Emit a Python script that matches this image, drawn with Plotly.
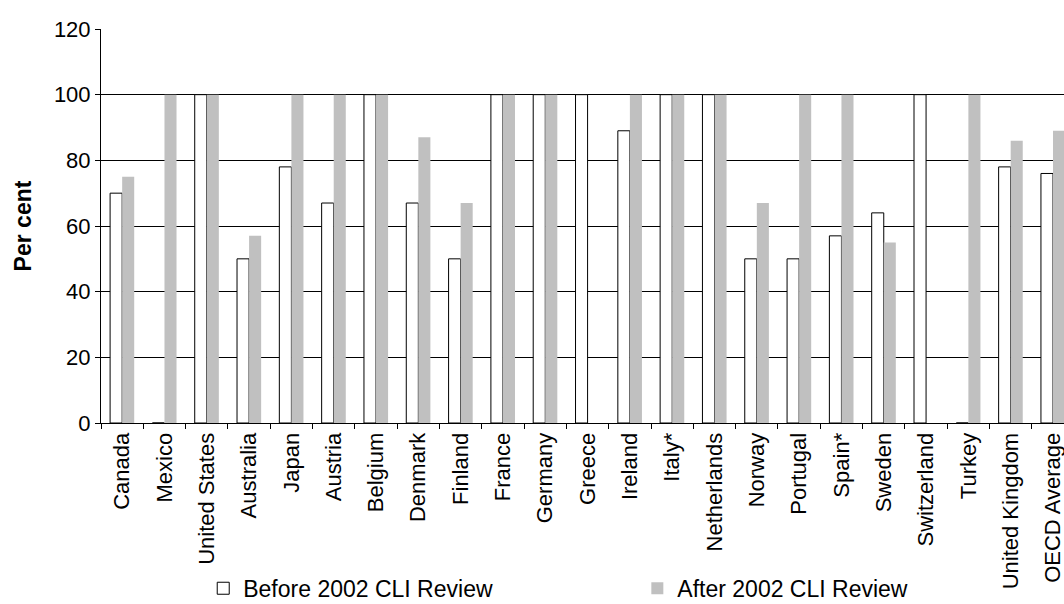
import plotly.graph_objects as go

countries = [
    "Canada", "Mexico", "United States", "Australia", "Japan", "Austria",
    "Belgium", "Denmark", "Finland", "France", "Germany", "Greece", "Ireland",
    "Italy*", "Netherlands", "Norway", "Portugal", "Spain*", "Sweden",
    "Switzerland", "Turkey", "United Kingdom", "OECD Average",
]
before_2002 = [70, 0, 100, 50, 78, 67, 100, 67, 50, 100, 100, 100, 89,
               100, 100, 50, 50, 57, 64, 100, 0, 78, 76]
after_2002 = [75, 100, 100, 57, 100, 100, 100, 87, 67, 100, 100, 0, 100,
              100, 100, 67, 100, 100, 55, 0, 100, 86, 89]
y_ticks = [0, 20, 40, 60, 80, 100, 120]

FONT = "Liberation Sans, Arial, sans-serif"

fig = go.Figure()
fig.add_trace(go.Bar(
    x=countries, y=before_2002, name="Before 2002 CLI Review",
    marker=dict(color="white", line=dict(color="black", width=1)),
    legend="legend",
))
fig.add_trace(go.Bar(
    x=countries, y=after_2002, name="After 2002 CLI Review",
    marker=dict(color="#c0c0c0", line=dict(width=0)),
    legend="legend2",
))

# one legend box per series so each entry sits at its own spot
legend_common = dict(
    orientation="h", xanchor="left", xref="container",
    yanchor="middle", yref="container", y=0.026,
    font=dict(size=23), bgcolor="rgba(0,0,0,0)",
)

fig.update_layout(
    width=1064, height=604,
    margin=dict(l=101, r=0, t=29, b=181),
    paper_bgcolor="white", plot_bgcolor="white",
    barmode="group", bargap=0.43, bargroupgap=0,
    font=dict(family=FONT, size=22, color="black"),
    showlegend=True,
    legend=dict(x=0.191, **legend_common),
    legend2=dict(x=0.599, **legend_common),
)

fig.update_xaxes(
    type="category", range=[-0.5, 22.26], automargin=False,
    showline=True, linecolor="black", linewidth=1,
    ticks="outside", ticklen=5, tickcolor="black", tickson="boundaries",
    tickangle=-90, showgrid=False,
    tickfont=dict(size=22),
)
fig.update_yaxes(
    range=[0, 120], tickvals=y_ticks, automargin=False,
    showline=True, linecolor="black", linewidth=1,
    ticks="outside", ticklen=5, tickcolor="black",
    showgrid=True, gridcolor="black", gridwidth=1, zeroline=False,
    tickfont=dict(size=22),
    title=dict(text="<b>Per cent</b>", font=dict(size=23), standoff=15),
)

fig.write_html("out.html")
